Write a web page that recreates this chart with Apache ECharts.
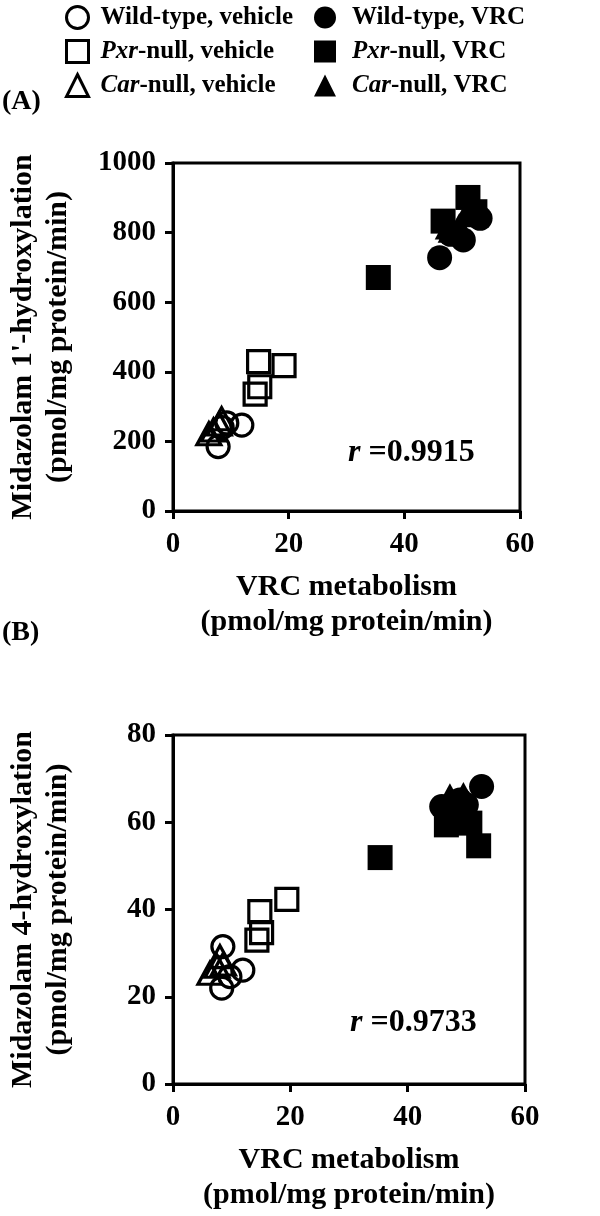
<!DOCTYPE html>
<html>
<head>
<meta charset="utf-8">
<script src="https://cdn.jsdelivr.net/npm/echarts@6/dist/echarts.min.js"></script>
<style>html,body{margin:0;padding:0;background:#fff}#c{width:600px;height:1216px}</style>
</head>
<body>
<div id="c"></div>
<script>
// ---- data ----
const seriesNames = ['Wild-type, vehicle', 'Pxr-null, vehicle', 'Car-null, vehicle',
                     'Wild-type, VRC', 'Pxr-null, VRC', 'Car-null, VRC'];
// Panel A: [VRC metabolism, Midazolam 1'-hydroxylation]
const A_wtVeh  = [[7.8,185],[9.3,253],[11.9,247],[8.5,240]];
const A_pxrVeh = [[14.8,429],[19.2,418],[15.0,357],[14.2,336]];
const A_carVeh = [[7.0,233],[8.4,265],[6.2,222],[8.0,250]];
const A_wtVrc  = [[46.1,728],[50.2,779],[53.1,841],[48.0,795]];
const A_pxrVrc = [[35.5,671],[51.0,901],[46.7,833],[52.2,860]];
const A_carVrc = [[48.0,805],[49.5,822],[50.5,850],[47.5,815]];
// Panel B: [VRC metabolism, Midazolam 4-hydroxylation]
const B_wtVeh  = [[8.5,31.5],[11.9,26.1],[8.3,22.0],[9.7,24.6]];
const B_pxrVeh = [[19.4,42.3],[14.8,39.5],[15.1,34.7],[14.3,33.0]];
const B_carVeh = [[6.3,25.4],[8.0,29.2],[7.5,27.0],[8.6,27.5]];
const B_wtVrc  = [[52.6,68.2],[45.8,63.6],[48.9,65.1],[50.0,64.0]];
const B_pxrVrc = [[35.3,51.9],[52.1,54.6],[46.6,59.4],[50.6,59.8]];
const B_carVrc = [[47.2,66.2],[48.9,63.6],[47.8,62.0],[49.5,66.5]];
const rA = '0.9915', rB = '0.9733';
const xTitle = 'VRC metabolism\n(pmol/mg protein/min)';
const yTitleA = "Midazolam 1'-hydroxylation\n(pmol/mg protein/min)";
const yTitleB = 'Midazolam 4-hydroxylation\n(pmol/mg protein/min)';

// ---- styles ----
const FONT = 'Liberation Serif';
const symbols = ['circle','rect','triangle','circle','rect','triangle'];
const filled = [false,false,false,true,true,true];
const dataA = [A_wtVeh,A_pxrVeh,A_carVeh,A_wtVrc,A_pxrVrc,A_carVrc];
const dataB = [B_wtVeh,B_pxrVeh,B_carVeh,B_wtVrc,B_pxrVrc,B_carVrc];

function mkSeries(dataArr, idx) {
  return dataArr.map((d, i) => ({
    type: 'scatter', name: seriesNames[i], xAxisIndex: idx, yAxisIndex: idx,
    data: d, symbol: symbols[i],
    symbolSize: filled[i] ? (symbols[i]==='triangle' ? [26,24] : 25) : (symbols[i]==='triangle' ? [24,22] : 22),
    itemStyle: filled[i] ? {color:'#000', borderColor:'#000', borderWidth:0, opacity:1}
                         : {color:'rgba(255,255,255,0)', borderColor:'#000', borderWidth:3.2, opacity:1},
    emphasis: {disabled:true}
  }));
}

const axisCommon = {
  type:'value',
  axisLine:{show:true, onZero:false, lineStyle:{color:'#000', width:3}},
  axisTick:{show:true, inside:false, length:8, lineStyle:{color:'#000', width:3}},
  splitLine:{show:false},
  axisLabel:{color:'#000', fontFamily:FONT, fontWeight:'bold', fontSize:29, margin:17,
             formatter:(v)=>String(v)},
  nameLocation:'middle',
  nameTextStyle:{color:'#000', fontFamily:FONT, fontWeight:'bold', fontSize:30, lineHeight:35}
};

function fmt(name){
  return name.replace(/^(Pxr|Car)/, '{i|$1}');
}
function legendText(pad){
  return {color:'#000', fontFamily:FONT, fontWeight:'bold', fontSize:25, lineHeight:25,
  padding:[0,0,0,pad], rich:{i:{fontFamily:FONT, fontStyle:'italic', fontWeight:'bold', fontSize:25, color:'#000'}}};
}

const option = {
  animation:false,
  backgroundColor:'#fff',
  legend:[
    {orient:'vertical', left:60, top:0, itemWidth:22, itemHeight:22, itemGap:9,
     data:seriesNames.slice(0,3), formatter:fmt, textStyle:legendText(7),
     itemStyle:{borderWidth:3}, selectedMode:false},
    {orient:'vertical', left:309, top:0, itemWidth:22, itemHeight:22, itemGap:9,
     data:seriesNames.slice(3), formatter:fmt, textStyle:legendText(11), selectedMode:false}
  ],
  grid:[
    {left:173, top:163, width:347, height:348, show:true, borderColor:'#000', borderWidth:3,
     containLabel:false, outerBoundsMode:'none'},
    {left:173, top:735, width:352, height:349, show:true, borderColor:'#000', borderWidth:3,
     containLabel:false, outerBoundsMode:'none'}
  ],
  xAxis:[
    Object.assign({}, axisCommon, {gridIndex:0, min:0, max:60, interval:20, name:xTitle, nameGap:59,
      axisLabel:Object.assign({}, axisCommon.axisLabel, {margin:19})}),
    Object.assign({}, axisCommon, {gridIndex:1, min:0, max:60, interval:20, name:xTitle, nameGap:59,
      axisLabel:Object.assign({}, axisCommon.axisLabel, {margin:19})})
  ],
  yAxis:[
    Object.assign({}, axisCommon, {gridIndex:0, min:0, max:1000, interval:200, name:yTitleA, nameGap:97}),
    Object.assign({}, axisCommon, {gridIndex:1, min:0, max:80, interval:20, name:yTitleB, nameGap:97})
  ],
  graphic:[
    {type:'text', left:2, top:88, style:{text:'(A)', fill:'#000', font:'bold 28px "Liberation Serif"'}},
    {type:'text', left:2, top:619, style:{text:'(B)', fill:'#000', font:'bold 28px "Liberation Serif"'}},
    {type:'text', left:348, top:437, style:{text:'{i|r} =' + rA, fill:'#000',
      font:'bold 32px "Liberation Serif"', rich:{i:{fontStyle:'italic', fontWeight:'bold', fontSize:32, fontFamily:FONT}}}},
    {type:'text', left:350, top:1007, style:{text:'{i|r} =' + rB, fill:'#000',
      font:'bold 32px "Liberation Serif"', rich:{i:{fontStyle:'italic', fontWeight:'bold', fontSize:32, fontFamily:FONT}}}}
  ],
  series: mkSeries(dataA, 0).concat(mkSeries(dataB, 1))
};
const chart = echarts.init(document.getElementById('c'), null, {renderer:'canvas'});
chart.setOption(option);
</script>
</body>
</html>
